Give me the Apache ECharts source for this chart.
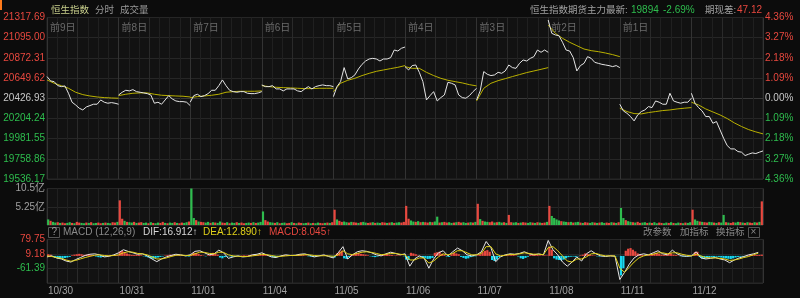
<!DOCTYPE html>
<html><head><meta charset="utf-8">
<script src="https://cdn.jsdelivr.net/npm/echarts/dist/echarts.min.js"></script>
<style>html,body{margin:0;padding:0;background:#0c0c0c;}#c{width:800px;height:298px;}</style>
</head><body><div id="c"></div>
<script>
// ---------- DATA ----------
const prevClose = 20426.93;
const priceStep = 222.69;
const dayNames = ['前9日','前8日','前7日','前6日','前5日','前4日','前3日','前2日','前1日'];
const dates = ['10/30','10/31','11/01','11/04','11/05','11/06','11/07','11/08','11/11','11/12'];

// intraday price samples (21 per day)
const price1030 = [20666,20618,20610,20566,20555,20563,20482,20383,20353,20317,20298,20331,20346,20361,20361,20408,20383,20372,20379,20372,20361];
const price1031 = [20463,20493,20515,20508,20522,20500,20493,20486,20478,20463,20372,20383,20361,20408,20456,20419,20397,20390,20390,20383,20346];
const price1101 = [20383,20456,20471,20445,20456,20478,20515,20515,20566,20629,20566,20515,20500,20493,20500,20500,20482,20478,20478,20486,20500];
const price1104 = [20574,20555,20555,20566,20530,20530,20508,20530,20530,20530,20508,20500,20530,20555,20530,20555,20566,20574,20566,20566,20555];
const price1105 = [20445,20555,20610,20765,20640,20654,20684,20750,20801,20838,20860,20867,20860,20838,20860,20860,20875,20959,20948,20978,20992];
const price1106 = [20776,20739,20787,20794,20713,20610,20408,20456,20500,20397,20434,20463,20603,20592,20574,20463,20434,20427,20456,20500,20537];
const price1107 = [20408,20508,20721,20691,20677,20684,20713,20702,20728,20794,20765,20757,20812,20849,20838,20867,20886,20959,20934,20959,20934];
const price1108 = [21290,21143,21125,21117,21044,20959,20948,20875,20728,20787,20812,20886,20867,20823,20812,20801,20794,20787,20776,20787,20765];
const price1111 = [20361,20287,20261,20225,20177,20243,20280,20298,20335,20324,20397,20383,20361,20361,20482,20397,20383,20372,20383,20383,20427];
const price1112 = [20482,20372,20324,20287,20225,20225,20151,20170,20078,19986,19905,19868,19868,19839,19832,19795,19810,19824,19817,19832,19846];

// intraday average price (11 per day)
const avg1030 = [20629,20592,20566,20537,20493,20467,20452,20441,20434,20430,20427];
const avg1031 = [20456,20471,20482,20486,20486,20471,20460,20456,20452,20449,20441];
const avg1101 = [20434,20445,20452,20460,20471,20493,20500,20504,20504,20504,20508];
const avg1104 = [20566,20555,20548,20544,20541,20537,20533,20533,20537,20537,20537];
const avg1105 = [20500,20592,20625,20647,20677,20702,20724,20739,20754,20768,20787];
const avg1106 = [20776,20757,20757,20713,20677,20647,20625,20610,20596,20577,20563];
const avg1107 = [20397,20537,20592,20621,20643,20666,20688,20710,20728,20746,20765];
const avg1108 = [21235,21143,21088,21044,21007,20970,20952,20941,20926,20908,20886];
const avg1111 = [20317,20280,20258,20254,20269,20280,20291,20298,20309,20317,20324];
const avg1112 = [20383,20353,20309,20276,20243,20203,20155,20115,20081,20056,20034];

// volume (亿), 30 per day, and up/down direction per bar
const vol1030 = [1.6,1.2,0.9,0.7,0.8,0.6,0.7,0.5,0.6,0.8,0.6,0.5,0.9,0.7,0.6,0.5,0.7,0.6,0.8,0.5,0.6,0.7,0.5,0.6,0.7,0.6,0.5,0.8,0.7,0.9];
const vol1031 = [7.1,1.8,1.2,0.9,0.8,0.7,0.9,0.6,0.7,0.8,0.6,0.7,0.5,0.8,0.6,0.5,0.7,0.6,0.9,0.6,0.5,0.7,0.6,0.8,0.6,0.5,0.7,0.6,0.8,1.0];
const vol1101 = [10.5,2.0,1.4,1.0,0.9,0.8,0.7,0.9,0.6,0.8,0.7,0.6,1.0,0.7,0.6,0.8,0.5,0.7,0.6,0.8,0.6,0.7,0.5,0.6,0.7,0.6,0.8,0.6,0.7,0.9];
const vol1104 = [3.9,1.4,1.0,0.8,0.7,0.6,0.8,0.5,0.6,0.7,0.5,0.6,0.8,0.6,0.5,0.7,0.6,0.5,0.6,0.7,0.5,0.6,0.5,0.7,0.6,0.5,0.6,0.7,0.6,0.8];
const vol1105 = [4.4,1.6,1.2,0.9,1.0,0.8,0.7,0.9,0.8,0.7,0.6,0.8,0.9,0.7,0.6,0.7,0.8,0.6,0.7,0.6,0.8,0.7,0.6,0.7,0.8,0.6,0.7,0.8,0.7,0.9];
const vol1106 = [5.5,1.8,1.3,1.0,0.9,1.1,0.8,0.9,0.8,0.7,0.9,0.8,1.0,2.4,0.7,0.8,0.9,0.7,0.8,0.6,0.7,0.8,0.9,0.7,0.8,0.6,0.7,0.8,0.7,0.9];
const vol1107 = [6.1,1.7,1.2,1.0,0.9,0.8,1.0,0.7,0.8,0.9,0.7,0.8,0.6,2.9,0.8,0.7,0.8,0.6,0.7,0.8,0.7,0.6,0.8,0.7,0.6,0.8,0.7,0.6,0.7,0.9];
const vol1108 = [5.5,2.6,2.0,1.6,1.3,1.1,1.0,0.9,0.8,0.9,0.7,0.8,0.9,0.7,0.6,0.8,0.7,0.6,0.8,0.7,0.6,0.7,0.8,0.6,0.7,0.6,0.8,0.7,0.6,0.8];
const vol1111 = [4.9,2.0,1.4,1.1,0.9,0.8,0.7,0.9,0.6,0.7,0.8,0.6,0.7,0.6,0.8,0.5,0.7,0.6,0.5,0.7,0.6,0.8,0.6,0.5,0.7,0.6,0.5,0.7,0.6,0.8];
const vol1112 = [4.4,1.6,1.2,1.0,0.9,0.8,0.7,0.9,0.8,0.7,0.6,0.8,0.7,2.9,0.8,0.7,0.6,0.8,0.7,0.9,0.8,0.7,0.6,0.8,0.7,0.6,0.8,0.7,0.9,6.8];
const volDir = [
  'GRGGR GRRGG RGRRG GRGRG GRRGR GGRRG',
  'RRGRG GRGRR GGRGR GGRRG RGGRG RRGGR',
  'GGRGR RGGRG RGGRR GRGGR GRRGG RGRGG',
  'GRRGG RGRGG RRGRG RRGGR GRGGR RGRGR',
  'RGRRG GRGRR GRGGR RGRGG RRGRG RGGRR',
  'RRGGR GRGRR GRGGR GRRGG RGRRG GRGRG',
  'RGRGG RRGRG GRGRR GGRGR RGGRG RGRRG',
  'RGGGG RGGRG RGGRG RRGGR GRGGR RGRGR',
  'GGRGG RGRRG GRGRG GRRGG RGRGG RGRGG',
  'RGGRG RRGGR GRGGR GRRGG RGRGR RGRGR'
];

// MACD: DIF / DEA (15 per day), histogram (30 per day)
const dif1030 = [-5,0,-10,-15,-25,-30,-18,-8,2,8,10,5,-5,-2,5];
const dif1031 = [15,30,22,15,8,10,0,-15,-28,-15,-5,2,8,5,0];
const dif1101 = [5,22,25,15,5,10,28,15,-12,-5,0,-5,-3,5,8];
const dif1104 = [15,5,-5,-8,0,5,2,3,8,10,3,-5,0,5,-3];
const dif1105 = [-10,15,45,-15,5,20,25,22,15,5,0,10,18,12,5];
const dif1106 = [10,-50,-15,0,-10,-60,-15,15,25,0,20,38,25,5,0];
const dif1107 = [5,20,70,40,-28,-5,5,10,8,12,20,10,5,10,5];
const dif1108 = [75,30,5,-30,-50,-30,-5,-25,10,25,10,0,-3,0,-2];
const dif1111 = [-115,-80,-40,-10,5,10,5,15,25,10,5,28,10,0,-2];
const dif1112 = [0,20,-10,-15,-12,-8,-15,-20,-33,-20,-10,-3,5,10,17];
const dea1030 = [0,-3,-8,-12,-20,-26,-22,-15,-8,-2,3,5,2,0,2];
const dea1031 = [5,15,20,18,12,10,5,-5,-15,-15,-10,-3,3,4,2];
const dea1101 = [2,10,18,17,12,10,18,17,5,0,-2,-3,-3,0,3];
const dea1104 = [8,6,2,-2,-2,0,2,2,4,6,5,2,0,1,0];
const dea1105 = [-2,5,25,10,6,12,18,20,17,12,6,8,12,12,8];
const dea1106 = [5,-20,-20,-10,-10,-35,-25,-5,10,5,12,25,25,15,5];
const dea1107 = [5,12,45,45,10,0,3,7,7,10,15,12,8,8,6];
const dea1108 = [40,45,25,0,-25,-30,-15,-15,-5,10,12,5,0,0,0];
const dea1111 = [-60,-80,-55,-30,-10,0,5,8,15,15,10,15,15,8,3];
const dea1112 = [0,8,0,-8,-10,-10,-12,-15,-22,-20,-15,-8,-3,6,13];
const hist1030 = [8,6,-5,-10,-12,-15,-14,-10,-8,-5,3,6,8,10,8,5,6,8,4,2,-3,-6,-8,-5,-3,2,4,3,5,4];
const hist1031 = [20,25,18,12,8,5,4,6,5,3,-2,-4,-8,-12,-14,-10,-8,-5,-3,2,4,6,5,3,2,4,3,1,-2,-3];
const hist1101 = [6,15,14,10,4,2,-2,3,8,15,12,6,-8,-12,-6,-3,-2,-4,-3,-2,-1,2,3,2,4,5,3,2,4,5];
const hist1104 = [10,8,4,-2,-6,-8,-5,-2,2,4,3,2,1,2,3,5,6,4,2,-2,-4,-5,-3,-1,2,3,4,2,-2,-3];
const hist1105 = [-8,12,20,25,-12,-15,-5,5,10,12,14,10,8,6,3,-2,-4,-6,-3,2,5,8,10,6,4,2,3,2,1,-2];
const hist1106 = [-18,-20,15,12,8,2,-3,-8,-12,-15,-14,-10,15,18,20,10,6,-3,-5,8,14,12,8,-5,-10,-14,-12,-6,-3,-2];
const hist1107 = [3,8,18,25,28,20,-20,-25,-18,-6,2,4,5,3,4,6,2,-3,-12,-15,-10,-4,6,8,10,5,3,2,3,2];
const hist1108 = [45,30,-12,-18,-20,-22,-18,-12,-6,-4,-3,-5,-2,3,6,12,10,5,3,2,-2,-3,-2,-1,-2,1,2,-1,-2,-1];
const hist1111 = [-95,-60,25,35,38,30,22,12,6,4,2,3,5,8,12,14,10,6,4,8,14,12,6,4,2,-2,-3,-4,-3,-2];
const hist1112 = [3,18,20,-6,-12,-15,-10,-8,-5,-6,-4,-5,-8,-10,-12,-14,-15,-12,-8,-5,-4,-3,-2,3,4,5,6,4,5,6];

const macdLabelBase = 9.18, macdLabelStep = 70.57;

// ---------- BUILD ----------
const priceDays = [price1030,price1031,price1101,price1104,price1105,price1106,price1107,price1108,price1111,price1112];
const avgDays = [avg1030,avg1031,avg1101,avg1104,avg1105,avg1106,avg1107,avg1108,avg1111,avg1112];
const volDays = [vol1030,vol1031,vol1101,vol1104,vol1105,vol1106,vol1107,vol1108,vol1111,vol1112];
const difDays = [dif1030,dif1031,dif1101,dif1104,dif1105,dif1106,dif1107,dif1108,dif1111,dif1112];
const deaDays = [dea1030,dea1031,dea1101,dea1104,dea1105,dea1106,dea1107,dea1108,dea1111,dea1112];
const histDays = [hist1030,hist1031,hist1101,hist1104,hist1105,hist1106,hist1107,hist1108,hist1111,hist1112];

const U = 7; // x units per day (grid sub-columns)
function brokenDays(days) {
  const out = [];
  days.forEach((arr, d) => {
    arr.forEach((v, j) => out.push([U*d + U*j/(arr.length-1), v]));
    if (d < days.length-1) out.push([U*(d+1), '-']);
  });
  return out;
}
function continuous(days) {
  const out = [];
  days.forEach((arr, d) => arr.forEach((v, j) => out.push([U*d + U*j/arr.length, v])));
  return out;
}
const RED = '#e8483f', GREEN = '#2ebd4e', CYAN = '#18d8f0';
const volData = [];
volDays.forEach((arr, d) => {
  const dir = volDir[d].replace(/ /g,'');
  arr.forEach((v, j) => volData.push({value:[U*d + U*(j+0.5)/arr.length, v], itemStyle:{color: dir[j]==='R' ? RED : GREEN}}));
});
const histData = [];
histDays.forEach((arr, d) => arr.forEach((v, j) => histData.push({value:[U*d + U*(j+0.5)/arr.length, v], itemStyle:{color: v >= 0 ? RED : CYAN}})));

const FONT = '"Liberation Sans","Noto Sans CJK SC",sans-serif';
const GRID_BG = '#121212';
const xSplit = {show:true, lineStyle:{color:['#333333','#202020','#202020','#2a2a2a','#202020','#202020','#202020'], width:1}};
function xBase(gi, extra) {
  return Object.assign({type:'value', gridIndex:gi, min:0, max:70, interval:1,
    axisLine:{show:false}, axisTick:{show:false}, axisLabel:{show:false}, splitLine:xSplit}, extra||{});
}
const grids = [
  {left:47, right:37, top:17.5, height:161.5},
  {left:47, right:37, top:188.5, height:36.5},
  {left:47, right:37, top:239.5, height:43.5}
].map(g => Object.assign(g, {show:true, backgroundColor:GRID_BG, borderColor:'#262626', borderWidth:1, containLabel:false, outerBoundsMode:'none'}));

function sideColor(v){ return v > 1e-6 ? RED : (v < -1e-6 ? GREEN : '#c8c8c8'); }

function T(text, x, y, color, size){ return {type:'text', x, y, silent:true,
  style:{text, fill:color, font:(size||10)+'px '+FONT, verticalAlign:'middle', align:'left'}}; }

const option = {
  backgroundColor:'#0c0c0c',
  animation:false,
  textStyle:{fontFamily:FONT},
  grid: grids,
  xAxis: [
    xBase(0),
    {type:'value', gridIndex:0, position:'top', min:0, max:70, interval:U,
      axisLine:{show:false}, axisTick:{show:false}, splitLine:{show:false},
      axisLabel:{inside:true, margin:6, align:'left', padding:[0,0,0,3], verticalAlign:'top', color:'#6a6a6a', fontSize:10,
        formatter: v => dayNames[Math.round(v/U)] || ''}},
    xBase(1),
    xBase(2),
    {type:'value', gridIndex:2, position:'bottom', min:0, max:70, interval:U,
      axisLine:{show:false}, axisTick:{show:false}, splitLine:{show:false},
      axisLabel:{margin:3, align:'left', padding:[0,0,0,1], color:'#a0a0a0', fontSize:10,
        formatter: v => dates[Math.round(v/U)] || ''}}
  ],
  yAxis: [
    {type:'value', gridIndex:0, show:false, min:prevClose-4*priceStep, max:prevClose+4*priceStep},
    {type:'value', gridIndex:0, position:'left', min:-4, max:4, interval:1,
      axisLine:{show:false}, axisTick:{show:false},
      axisLabel:{margin:2, fontSize:10, formatter: v => (prevClose + v*priceStep).toFixed(2), color: v => sideColor(v)},
      splitLine:{show:true, lineStyle:{color:['#262626','#262626','#262626','#262626','#383838','#262626','#262626','#262626','#262626']}}},
    {type:'value', gridIndex:0, position:'right', min:-4, max:4, interval:1,
      axisLine:{show:false}, axisTick:{show:false}, splitLine:{show:false},
      axisLabel:{margin:2, fontSize:10, formatter: v => Math.abs(v*priceStep/prevClose*100).toFixed(2)+'%', color: v => sideColor(v)}},
    {type:'value', gridIndex:1, position:'left', min:0, max:10.5, interval:5.25,
      axisLine:{show:false}, axisTick:{show:false},
      axisLabel:{margin:2, fontSize:10, padding:[3,0,0,0], color:'#a0a0a0', formatter: v => v ? v + '亿' : ''},
      splitLine:{show:true, lineStyle:{color:'#262626'}}},
    {type:'value', gridIndex:2, show:false, min:macdLabelBase-2*macdLabelStep, max:macdLabelBase+macdLabelStep},
    {type:'value', gridIndex:2, position:'left', min:-2, max:1, interval:1,
      axisLine:{show:false}, axisTick:{show:false},
      axisLabel:{margin:2, fontSize:10, padding:[6,0,0,0], formatter: v => v === -2 ? '' : (macdLabelBase + v*macdLabelStep).toFixed(2),
        color: v => v >= 0 ? RED : GREEN},
      splitLine:{show:true, lineStyle:{color:'#262626'}}}
  ],
  series: [
    {type:'line', name:'均价', xAxisIndex:0, yAxisIndex:0, data:brokenDays(avgDays), showSymbol:false, connectNulls:false,
      lineStyle:{color:'#b9b000', width:1}, silent:true},
    {type:'line', name:'价格', xAxisIndex:0, yAxisIndex:0, data:brokenDays(priceDays), showSymbol:false, connectNulls:false,
      lineStyle:{color:'#e4e4e4', width:1}, silent:true},
    {type:'bar', name:'成交量', xAxisIndex:2, yAxisIndex:3, data:volData, barWidth:2.2, silent:true},
    {type:'bar', name:'MACD', xAxisIndex:3, yAxisIndex:4, data:histData, barWidth:2.2, silent:true},
    {type:'line', name:'DIF', xAxisIndex:3, yAxisIndex:4, data:continuous(difDays), showSymbol:false,
      lineStyle:{color:'#e6e6e6', width:1}, silent:true},
    {type:'line', name:'DEA', xAxisIndex:3, yAxisIndex:4, data:continuous(deaDays), showSymbol:false,
      lineStyle:{color:'#e2d21a', width:1}, silent:true}
  ],
  graphic: [
    {type:'rect', shape:{x:0, y:0, width:2, height:10}, style:{fill:'#ff7a1a'}, silent:true},
    T('恒生指数', 51, 10, '#c9d08c', 9.5),
    T('分时', 95, 10, '#9a9a9a', 9.5),
    T('成交量', 120, 10, '#9a9a9a', 9.5),
    T('恒生指数期货主力最新:', 530, 10, '#a0a0a0', 9.5),
    T('19894', 631, 10, GREEN),
    T('-2.69%', 663, 10, GREEN),
    T('期现差:', 705, 10, '#a0a0a0', 9.5),
    T('47.12', 737, 10, RED),
    {type:'rect', shape:{x:48.5, y:227.5, width:11, height:10}, style:{fill:'none', stroke:'#555555', lineWidth:1}, silent:true},
    T('?', 51.5, 232.5, '#9a9a9a'),
    T('MACD (12,26,9)', 63, 232.5, '#8a8a8a'),
    T('DIF:16.912↑', 143, 232.5, '#d8d8d8'),
    T('DEA:12.890↑', 203, 232.5, '#e2d21a'),
    T('MACD:8.045↑', 269, 232.5, RED),
    T('改参数', 643, 232.5, '#8a8a8a', 9.5),
    T('加指标', 680, 232.5, '#8a8a8a', 9.5),
    T('换指标', 716, 232.5, '#8a8a8a', 9.5),
    {type:'rect', shape:{x:748.5, y:227.5, width:11, height:10}, style:{fill:'none', stroke:'#555555', lineWidth:1}, silent:true},
    T('×', 750.5, 232.5, '#8a8a8a')
  ]
};
const chart = echarts.init(document.getElementById('c'));
chart.setOption(option);
</script>
</body></html>
